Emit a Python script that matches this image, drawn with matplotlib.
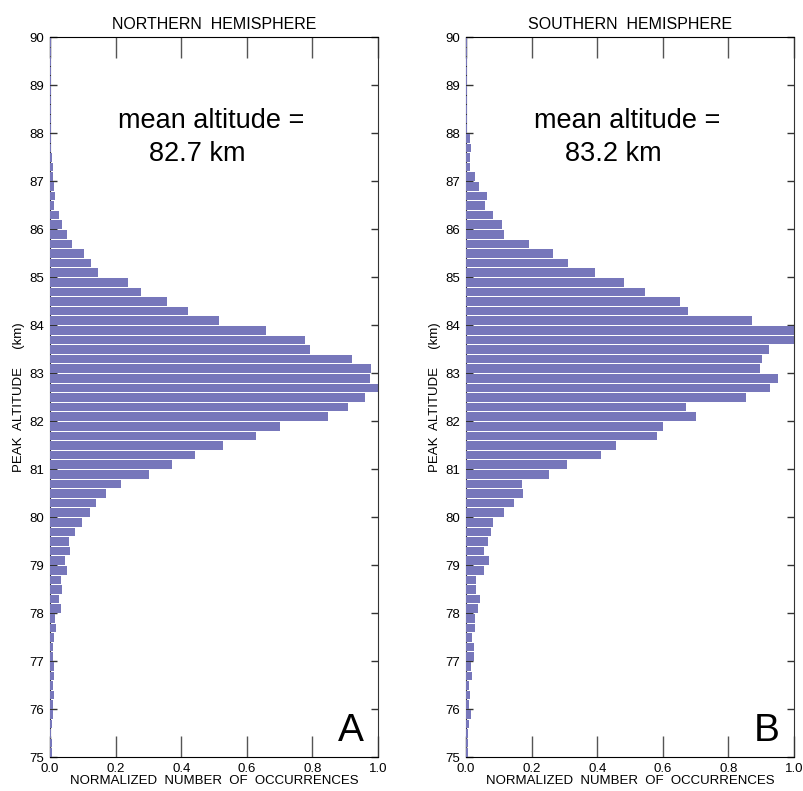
import numpy as np
import matplotlib.pyplot as plt

plt.rcParams['font.family'] = ['Liberation Sans', 'DejaVu Sans']

# lower bin edges (km), 0.2 km bins from 75.0 to 89.8
bin_edges = np.round(np.arange(75.0, 90.0, 0.2), 1)

# normalized counts, listed from 75.0 upward
north = [0.005, 0.005, 0.002, 0.005, 0.009, 0.009, 0.012, 0.009, 0.012, 0.012,
         0.009, 0.009, 0.012, 0.018, 0.015, 0.034, 0.027, 0.037, 0.034, 0.052,
         0.046, 0.061, 0.058, 0.076, 0.098, 0.122, 0.140, 0.171, 0.216, 0.302,
         0.372, 0.442, 0.527, 0.628, 0.701, 0.848, 0.908, 0.960, 1.000, 0.976,
         0.978, 0.921, 0.793, 0.777, 0.659, 0.515, 0.421, 0.357, 0.277, 0.238,
         0.146, 0.125, 0.104, 0.067, 0.052, 0.037, 0.027, 0.012, 0.015, 0.012,
         0.008, 0.008, 0.005, 0.002, 0.002, 0.002, 0.002, 0.002, 0.002, 0.002,
         0.002, 0.002, 0.002, 0.002, 0.002]

south = [0.005, 0.005, 0.005, 0.009, 0.015, 0.009, 0.012, 0.009, 0.018, 0.015,
         0.024, 0.024, 0.018, 0.027, 0.027, 0.037, 0.043, 0.030, 0.030, 0.055,
         0.070, 0.055, 0.067, 0.076, 0.082, 0.116, 0.146, 0.174, 0.171, 0.253,
         0.308, 0.412, 0.457, 0.582, 0.601, 0.701, 0.671, 0.854, 0.927, 0.951,
         0.896, 0.902, 0.924, 1.000, 1.000, 0.872, 0.677, 0.652, 0.546, 0.482,
         0.393, 0.311, 0.265, 0.192, 0.116, 0.110, 0.082, 0.058, 0.064, 0.040,
         0.027, 0.012, 0.012, 0.015, 0.012, 0.004, 0.004, 0.004, 0.004, 0.004,
         0.004, 0.004, 0.004, 0.004, 0.004]

titles = ["NORTHERN  HEMISPHERE", "SOUTHERN  HEMISPHERE"]
means = ["82.7", "83.2"]
letters = ["A", "B"]

bar_color = "#7777bb"

fig = plt.figure(figsize=(8.04, 7.91), dpi=100)
ax_a = fig.add_axes([50 / 804, 1 - 757 / 791, 328 / 804, 720 / 791])
ax_b = fig.add_axes([466 / 804, 1 - 757 / 791, 328 / 804, 720 / 791])

for ax, vals, title, mean, letter in zip([ax_a, ax_b], [north, south], titles, means, letters):
    ax.barh(bin_edges, vals, height=0.18, align='edge', color=bar_color,
            edgecolor='none', zorder=2)
    ax.set_xlim(0, 1)
    ax.set_ylim(75, 90)

    ax.set_xticks(np.arange(0, 1.01, 0.2))
    ax.set_xticklabels([f"{v:.1f}" for v in np.arange(0, 1.01, 0.2)])
    ax.set_yticks(np.arange(75, 91, 1))
    ax.tick_params(axis='x', direction='in', length=15, width=1, color='#555555',
                   top=True, labelsize=9.5, pad=4)
    ax.tick_params(axis='y', direction='in', length=5, width=1, color='#333333',
                   right=True, labelsize=9.5, pad=4)

    for side in ['top', 'bottom']:
        ax.spines[side].set_color('black')
    ax.spines['right'].set_color('#333333')
    ax.spines['left'].set_color('#333333')
    ax.spines['left'].set_zorder(1)

    ax.set_title(title, fontsize=11.5, pad=6)
    ax.set_xlabel("NORMALIZED  NUMBER  OF  OCCURRENCES", fontsize=9.5, labelpad=0)
    ax.set_ylabel("PEAK  ALTITUDE     (km)", fontsize=9.5, labelpad=3)

    ax.text(0.49, 88.24, "mean altitude =", fontsize=19.5, ha='center', va='center')
    ax.text(0.45, 87.56, mean + " km", fontsize=19.5, ha='center', va='center')
    ax.text(0.918, 75.54, letter, fontsize=28, ha='center', va='center')

fig.savefig("out.png", dpi=100)
